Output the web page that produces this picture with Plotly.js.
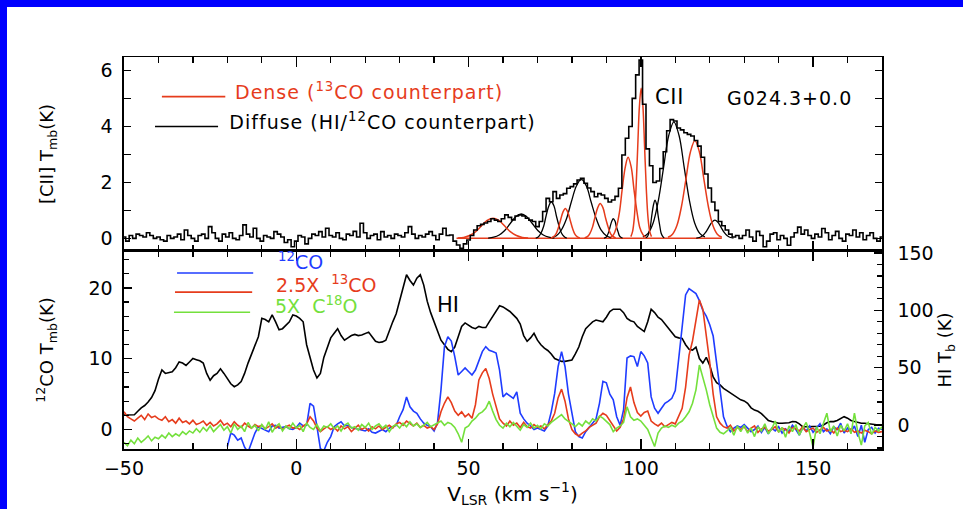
<!DOCTYPE html>
<html>
<head>
<meta charset="utf-8">
<script src="https://cdn.plot.ly/plotly-3.0.1.min.js"></script>
<style>
  html, body { margin: 0; padding: 0; background: #fff; }
  #wrap { position: relative; width: 963px; height: 509px; overflow: hidden; }
  #chart { position: absolute; left: 0; top: 0; width: 963px; height: 509px; }
  .bar-top { position: absolute; left: 0; top: 0; width: 963px; height: 7px; background: #0000ff; z-index: 5; }
  .bar-left { position: absolute; left: 0; top: 0; width: 7px; height: 509px; background: #0000ff; z-index: 5; }
  g.annotation[data-index="0"] text, g.annotation[data-index="1"] text,
  g.annotation[data-index="3"] text { letter-spacing: 1px; }
  g.annotation[data-index="2"] text { letter-spacing: 0.6px; }
</style>
</head>
<body>
<div id="wrap">
  <div id="chart"></div>
  <div class="bar-top"></div>
  <div class="bar-left"></div>
</div>
<script>
// ---------------- DATA ----------------
// Velocity channels (km/s)
const velocity = [-50,-49,-48,-47,-46,-45,-44,-43,-42,-41,-40,-39,-38,-37,-36,-35,-34,-33,-32,-31,
-30,-29,-28,-27,-26,-25,-24,-23,-22,-21,-20,-19,-18,-17,-16,-15,-14,-13,-12,-11,
-10,-9,-8,-7,-6,-5,-4,-3,-2,-1,0,1,2,3,4,5,6,7,8,9,
10,11,12,13,14,15,16,17,18,19,20,21,22,23,24,25,26,27,28,29,
30,31,32,33,34,35,36,37,38,39,40,41,42,43,44,45,46,47,48,49,
50,51,52,53,54,55,56,57,58,59,60,61,62,63,64,65,66,67,68,69,
70,71,72,73,74,75,76,77,78,79,80,81,82,83,84,85,86,87,88,89,
90,91,92,93,94,95,96,97,98,99,100,101,102,103,104,105,106,107,108,109,
110,111,112,113,114,115,116,117,118,119,120,121,122,123,124,125,126,127,128,129,
130,131,132,133,134,135,136,137,138,139,140,141,142,143,144,145,146,147,148,149,
150,151,152,153,154,155,156,157,158,159,160,161,162,163,164,165,166,167,168,169,170];

// [CII] spectrum, Tmb (K)
const ciiTmb = [0.05,-0.1,0.1,0.0,0.15,0.1,0.05,0.2,0.1,0.0,
0.05,-0.05,-0.1,0.1,0.0,0.05,0.15,-0.05,0.3,0.1,
0.0,-0.1,0.1,0.15,0.0,0.42,0.2,0.0,-0.1,0.15,
0.05,0.2,0.0,-0.05,0.1,0.48,0.15,0.05,0.36,0.0,
-0.1,0.1,0.05,0.0,0.24,0.15,0.05,-0.15,-0.05,-0.3,
-0.1,0.1,0.05,-0.2,0.0,0.15,0.1,0.24,0.05,0.36,
0.1,0.05,0.2,0.0,-0.05,0.15,0.1,0.25,0.05,0.54,
0.2,0.0,0.1,0.15,-0.05,0.24,0.05,0.1,0.0,0.15,
0.1,0.05,0.2,0.42,0.15,0.0,0.1,0.05,0.15,0.24,
0.1,-0.05,0.15,0.36,0.1,0.12,-0.1,-0.24,-0.36,-0.2,
-0.06,0.1,0.3,0.45,0.5,0.55,0.6,0.7,0.65,0.6,
0.7,0.84,0.75,0.66,0.8,0.84,0.8,0.72,0.65,0.6,
0.42,0.6,0.96,1.43,1.31,1.67,1.43,1.55,1.6,1.79,
1.85,1.95,2.09,2.15,1.97,1.8,1.67,1.49,1.6,1.55,
1.43,1.3,1.37,1.5,1.79,2.98,3.58,4.0,5.01,5.85,
6.38,4.8,3.2,2.6,2.0,2.05,2.5,3.1,3.85,4.25,
4.2,3.95,3.88,3.78,3.72,3.66,3.5,3.3,2.9,2.3,
1.8,1.3,1.0,0.6,0.45,0.3,0.15,0.05,0.1,0.0,
0.1,0.3,0.05,-0.1,0.25,0.1,-0.3,-0.1,0.15,0.2,
-0.05,0.1,0.0,-0.25,0.05,0.2,0.4,0.15,0.3,0.1,
0.0,0.15,0.05,0.35,0.2,-0.05,0.1,0.25,0.0,-0.1,
0.15,0.1,0.3,0.05,0.2,-0.05,0.1,0.2,0.0,-0.1,
0.05];

// Dense ([CII] with 13CO counterpart) fitted components: velocities and Tmb
const denseVel = [
 [46.9,48.6,50.3,52.0,53.7,55.4,57.1,58.8,60.5,62.2,63.9,65.6,67.3],
 [73.9,74.6,75.3,76.0,76.7,77.4,78.1,78.8,79.5,80.2,80.9,81.6,82.3],
 [83.7,84.5,85.2,86.0,86.7,87.5,88.2,89.0,89.7,90.5,91.2,92.0,92.7],
 [91.2,92.1,92.9,93.8,94.6,95.5,96.3,97.2,98.0,98.9,99.7,100.6,101.4],
 [97.1,97.6,98.1,98.6,99.1,99.6,100.1,100.6,101.1,101.6,102.1,102.6,103.1],
 [107.9,109.2,110.5,111.8,113.1,114.4,115.7,117.0,118.3,119.6,120.9,122.2,123.5]
];
const denseTmb = [
 [0.01,0.03,0.10,0.23,0.44,0.64,0.72,0.64,0.44,0.23,0.10,0.03,0.01],
 [0.01,0.05,0.14,0.35,0.65,0.94,1.07,0.94,0.65,0.35,0.14,0.05,0.01],
 [0.01,0.06,0.17,0.41,0.76,1.10,1.25,1.10,0.76,0.41,0.17,0.06,0.01],
 [0.03,0.13,0.39,0.94,1.76,2.56,2.90,2.56,1.76,0.94,0.39,0.13,0.03],
 [0.06,0.24,0.72,1.75,3.26,4.74,5.37,4.74,3.26,1.75,0.72,0.24,0.06],
 [0.04,0.15,0.47,1.14,2.12,3.09,3.50,3.09,2.12,1.14,0.47,0.15,0.04]
];
const denseBaseVel = [46.5, 123.5];
const denseBaseTmb = [0, 0];

// Diffuse ([CII] with HI/12CO counterpart) fitted components
const diffuseVel = [
 [55.7,57.3,58.9,60.5,62.1,63.7,65.3,66.9,68.5,70.1,71.7,73.3,74.9],
 [69.5,70.3,71.0,71.8,72.5,73.3,74.0,74.8,75.5,76.3,77.0,77.8,78.5],
 [74.0,75.5,76.9,78.4,79.8,81.3,82.7,84.2,85.6,87.1,88.5,90.0,91.4],
 [89.3,89.8,90.2,90.7,91.1,91.6,92.0,92.5,92.9,93.4,93.8,94.3,94.7],
 [101.4,101.9,102.3,102.8,103.2,103.7,104.1,104.6,105.0,105.5,105.9,106.4,106.8],
 [100.6,102.1,103.6,105.1,106.6,108.1,109.6,111.1,112.6,114.1,115.6,117.1,118.6],
 [116.1,117.0,117.9,118.8,119.7,120.6,121.5,122.4,123.3,124.2,125.1,126.0,126.9]
];
const diffuseTmb = [
 [0.01,0.04,0.12,0.28,0.53,0.77,0.87,0.77,0.53,0.28,0.12,0.04,0.01],
 [0.01,0.06,0.18,0.43,0.80,1.16,1.31,1.16,0.80,0.43,0.18,0.06,0.01],
 [0.02,0.09,0.29,0.69,1.29,1.87,2.12,1.87,1.29,0.69,0.29,0.09,0.02],
 [0.01,0.03,0.09,0.23,0.42,0.62,0.70,0.62,0.42,0.23,0.09,0.03,0.01],
 [0.02,0.06,0.18,0.45,0.83,1.21,1.37,1.21,0.83,0.45,0.18,0.06,0.02],
 [0.05,0.18,0.56,1.36,2.53,3.68,4.17,3.68,2.53,1.36,0.56,0.18,0.05],
 [0.01,0.03,0.09,0.21,0.39,0.57,0.65,0.57,0.39,0.21,0.09,0.03,0.01]
];

// HI brightness temperature (K)
const hiTb = [8.7,8.7,8.7,9,12,15,17,20,24,30,
40,48,45,46,46.5,50,55,54,52,55,
58,57,56,54,45,39,43,45,49,45,
40,36,33.4,35,38,45,54,62,70,77,
93,92,90,96,90,83,84,87,90,96,
95,93,90,70,58,48,41,45,59,68,
76,80,84,78,74,76,78,79,78,78.5,
80,81,77,73,72,72.5,74,83,90,97,
108,120,131,126,122,128,131,122,108,98,
90,83,74,70,66,64,68,77,86,89,
87,85,84,86,85,85,90,95,100,104,
103,101,99,96,93,88,78,73,76,80,
74,70,67,65,62,58,57,55.5,55.5,56,
56.7,62,68,77,84,87,90,91.5,91,90,
94,99,101,101,101,98,93,91,90,86,
84,81.5,90,101,98,94,92,88,85,80,
77,76,75.5,70,66,65.4,68,58,54,59,
52,42,37,35,32,30,28,26,24,22,
21,19,15,13,12,10,7,4,3,2,
1.5,1.5,1.5,2,3,2.9,1,-1.5,-1.5,-1.5,
-1.5,-1.5,-1,0,2,3,3,4,6,7.3,
6,4,3,2,1.5,1.5,1,0.5,0,0,
0];

// 12CO Tmb (K), no data below -20 km/s
const co12 = [null,null,null,null,null,null,null,null,null,null,
null,null,null,null,null,null,null,null,null,null,
null,null,null,null,null,null,null,null,null,null,
-2.4,-0.5,-0.8,-1.5,-1.2,-2.5,-3.2,-1.8,-0.5,0.4,
0.2,0.0,-0.3,0.5,0.6,0.2,0.3,0.4,0.1,0.0,
0.3,0.9,0.5,0.6,3.7,3.3,0.4,-2.7,-3.0,-1.8,
-1.0,0.4,0.8,1.1,0.5,0.6,0.3,0.2,0.0,-0.1,
-0.2,0.1,-0.4,-0.5,-0.2,0.0,-0.3,0.2,0.4,0.6,
1.8,2.8,4.6,3.2,2.6,2.3,1.5,0.9,0.6,0.4,
-0.2,1.0,5.6,11.7,13.1,12.5,10.3,7.7,8.2,8.7,
8.2,7.7,8.4,9.8,11.0,11.7,11.2,11.0,10.8,8.4,
4.6,5.1,4.8,4.4,5.3,2.3,1.5,0.9,0.5,0.0,
0.2,0.0,-0.2,0.5,2.5,5.1,8.9,11.0,8.9,5.0,
2.3,-0.3,-1.0,-1.2,-0.3,0.3,0.9,1.5,3.7,6.8,
6.6,5.0,4.2,1.8,0.6,2.8,10.1,10.4,10.3,8.9,
11.0,10.4,9.4,4.6,3.0,2.3,3.0,3.7,4.0,4.4,
5.5,10.0,14.5,19.0,19.9,19.5,19.2,18.2,16.8,16.0,
14.8,13.2,9.5,5.0,1.8,0.5,-0.3,0.2,0.5,0.3,
0.7,0.2,-0.3,0.0,0.5,-0.4,0.3,-0.6,0.2,-0.2,
0.4,-0.5,0.1,-0.3,0.6,0.0,-0.8,0.3,-0.2,0.5,
-0.4,0.2,0.8,-0.3,0.1,-0.6,0.4,0.0,0.9,-0.5,
0.2,-0.3,0.5,-1.0,0.6,-1.8,0.0,0.3,-0.5,0.2,
0.0];

// 2.5 x 13CO Tmb (K)
const co13x25 = [2.5,1.8,1.5,1.2,1.6,2.0,1.4,2.2,1.7,1.9,
1.5,1.3,1.8,1.1,1.4,0.9,1.6,1.0,1.2,0.8,
1.3,0.7,0.9,1.2,0.6,1.0,0.5,0.8,1.3,0.6,
0.9,0.4,1.1,0.6,0.3,0.9,0.5,0.2,0.7,0.4,
0.6,0.1,0.4,0.8,0.2,0.5,0.0,0.4,0.6,0.2,
0.3,0.0,0.5,0.8,1.8,1.2,0.2,-0.3,0.1,0.4,
0.0,0.3,-0.2,0.5,0.1,0.4,-0.3,0.2,0.6,0.0,
0.3,-0.2,0.4,0.1,0.5,0.0,0.3,0.6,0.2,0.8,
1.0,0.6,1.2,0.8,0.5,0.9,0.3,0.6,0.2,0.4,
0.0,0.8,2.5,3.7,4.6,3.8,2.6,2.0,2.5,1.8,
2.2,1.6,3.5,7.0,8.0,8.6,7.2,5.0,3.2,1.5,
0.9,0.5,1.2,0.6,0.9,0.3,1.0,0.4,0.2,0.7,
0.3,0.5,0.1,0.6,1.2,2.3,4.5,5.7,4.0,1.5,
0.0,-0.6,-0.9,-0.5,-0.2,0.3,0.6,0.9,1.8,2.3,
2.0,1.3,0.5,-0.2,0.3,1.5,4.5,6.0,3.8,2.4,
1.9,2.4,2.6,1.2,0.8,0.5,0.9,0.4,0.7,1.0,
0.8,1.8,3.0,6.0,10.5,12.5,15.5,18.3,17.0,13.6,
9.5,5.0,1.8,0.9,0.4,0.2,0.6,-0.2,0.3,0.0,
0.4,-0.3,0.2,0.5,-0.4,0.1,0.3,-0.2,0.0,0.4,
-0.3,0.2,0.0,-0.5,0.3,0.1,-0.2,0.4,-0.3,0.0,
0.2,-0.4,-0.1,0.3,-0.2,0.0,-0.5,0.2,-0.3,-0.1,
-0.3,0.1,-0.4,-0.2,-0.5,-0.1,-0.3,-0.6,-0.2,-0.4,
-0.3];

// 5 x C18O Tmb (K)
const c18ox5 = [-1.8,-2.3,-1.5,-2.0,-1.2,-1.8,-1.4,-0.9,-1.6,-1.1,
-1.3,-0.8,-1.2,-0.5,-1.0,-0.6,-0.9,-0.3,-0.7,-0.2,
-0.5,0.1,-0.4,0.3,-0.2,0.5,-0.3,0.2,0.7,-0.1,
0.4,-0.5,0.8,0.0,0.5,-0.3,1.0,0.2,0.6,-0.2,
0.7,0.0,1.1,-0.4,0.4,0.8,-0.2,0.5,0.1,0.9,
0.2,0.6,-0.3,0.9,0.3,0.0,0.7,-0.2,0.5,0.3,
0.8,0.1,0.5,-0.2,0.6,0.9,0.2,0.4,-0.1,0.7,
0.3,0.9,0.0,0.5,0.8,0.2,0.6,-0.3,0.4,0.7,
0.2,0.9,0.4,1.1,0.5,0.8,0.3,0.6,1.0,0.4,
0.7,0.9,1.2,0.6,1.0,0.8,0.3,-0.6,-1.8,0.2,
0.5,1.2,1.6,2.2,2.5,3.0,4.0,2.6,1.4,0.6,
0.2,0.9,0.4,1.0,0.5,-0.1,0.7,0.3,0.9,0.2,
0.6,0.1,0.8,0.5,1.0,1.4,1.8,2.1,1.5,1.2,
0.8,0.4,0.9,0.5,1.2,0.8,1.5,1.2,1.9,1.6,
1.2,0.7,-0.3,0.2,0.5,1.0,3.2,1.8,1.3,1.5,
1.2,0.6,0.0,-1.2,-2.4,-0.5,0.2,0.5,0.3,0.6,
0.4,0.9,1.2,1.8,2.5,3.7,5.6,9.1,7.5,5.6,
3.5,1.8,0.2,-0.4,-0.6,-0.2,0.3,-0.8,0.5,-0.3,
0.6,-0.5,0.2,-1.0,0.4,-0.2,0.8,-0.6,0.1,1.2,
-0.4,0.3,-1.1,0.5,-0.3,0.7,-0.8,0.2,1.0,-0.5,
-2.5,0.4,-0.6,0.9,2.3,-0.3,0.5,-0.9,0.6,-0.2,
0.8,-0.6,2.3,-0.4,-2.2,0.5,1.0,-0.7,0.3,-0.2,
0.4];

// Axis tick values / labels
const xTickVals = [-50, 0, 50, 100, 150];
const ciiTickVals = [0, 2, 4, 6];
const coTickVals = [0, 10, 20];
const hiTickVals = [0, 50, 100, 150];

// ---------------- STYLE ----------------
const FONT = 'DejaVu Sans, Verdana, sans-serif';
const RED = '#e63c1c';
const BLUE = '#1f3cff';
const GREEN = '#74e03c';
const BLACK = '#000000';

const traces = [];

// Top panel: fitted components (drawn first, then spectrum on top)
traces.push({x: denseBaseVel, y: denseBaseTmb, xaxis: 'x2', yaxis: 'y', mode: 'lines',
  line: {color: RED, width: 1.5}, hoverinfo: 'skip'});
for (let i = 0; i < diffuseVel.length; i++) {
  traces.push({x: diffuseVel[i], y: diffuseTmb[i], xaxis: 'x2', yaxis: 'y', mode: 'lines',
    line: {color: BLACK, width: 1.3, shape: 'spline', smoothing: 1}, hoverinfo: 'skip'});
}
for (let i = 0; i < denseVel.length; i++) {
  traces.push({x: denseVel[i], y: denseTmb[i], xaxis: 'x2', yaxis: 'y', mode: 'lines',
    line: {color: RED, width: 1.5, shape: 'spline', smoothing: 1}, hoverinfo: 'skip'});
}
traces.push({x: velocity, y: ciiTmb, xaxis: 'x2', yaxis: 'y', mode: 'lines',
  line: {color: BLACK, width: 1.6, shape: 'hvh'}, name: '[CII]'});

// Bottom panel: HI (right axis, base), CO lines (left axis, overlaying)
traces.push({x: velocity, y: hiTb, xaxis: 'x', yaxis: 'y2', mode: 'lines',
  line: {color: BLACK, width: 1.6}, name: 'HI'});
traces.push({x: velocity, y: co12, xaxis: 'x', yaxis: 'y3', mode: 'lines',
  line: {color: BLUE, width: 1.6}, name: '12CO', connectgaps: false});
traces.push({x: velocity, y: co13x25, xaxis: 'x', yaxis: 'y3', mode: 'lines',
  line: {color: RED, width: 1.6}, name: '2.5X 13CO'});
traces.push({x: velocity, y: c18ox5, xaxis: 'x', yaxis: 'y3', mode: 'lines',
  line: {color: GREEN, width: 1.6}, name: '5X C18O'});

const tickFont = {family: FONT, size: 19, color: BLACK};
const titleFont = {family: FONT, size: 18, color: BLACK};

const layout = {
  width: 963, height: 509,
  margin: {l: 124, r: 81, t: 57, b: 60},
  paper_bgcolor: '#ffffff', plot_bgcolor: '#ffffff',
  showlegend: false,
  font: {family: FONT, color: BLACK},
  xaxis: {
    anchor: 'y2', domain: [0, 1], range: [-50, 170],
    tickvals: xTickVals, ticks: 'inside', ticklen: 10, tickwidth: 1.5, tickcolor: BLACK,
    minor: {dtick: 10, tick0: 0, ticks: 'inside', ticklen: 6, tickwidth: 1.2, tickcolor: BLACK},
    showline: true, linewidth: 1.6, linecolor: BLACK, mirror: 'ticks',
    showgrid: false, zeroline: false, tickfont: tickFont, ticklabelstandoff: 2,
    title: {text: '&nbsp;&nbsp;&nbsp;V<sub>LSR</sub> (km s<sup>−1</sup>)', font: {family: FONT, size: 20, color: BLACK}, standoff: 2}
  },
  xaxis2: {
    anchor: 'y', matches: 'x', range: [-50, 170], showticklabels: false,
    tickvals: xTickVals, ticks: 'inside', ticklen: 10, tickwidth: 1.5, tickcolor: BLACK,
    minor: {dtick: 10, tick0: 0, ticks: 'inside', ticklen: 6, tickwidth: 1.2, tickcolor: BLACK},
    showline: true, linewidth: 1.4, linecolor: BLACK, mirror: 'ticks',
    showgrid: false, zeroline: false
  },
  yaxis: {
    anchor: 'x2', domain: [0.505, 1], range: [-0.455, 6.49],
    tickvals: ciiTickVals, ticks: 'inside', ticklen: 7, tickwidth: 1.3, tickcolor: BLACK,
    minor: {dtick: 1, tick0: 0, ticks: 'inside', ticklen: 7, tickwidth: 1.2, tickcolor: BLACK},
    showline: true, linewidth: 1.6, linecolor: BLACK, mirror: 'ticks',
    showgrid: false, zeroline: false, tickfont: tickFont, ticklabelstandoff: 6,
    title: {text: '[CII] T<sub>mb</sub>(K)', font: titleFont, standoff: 42}
  },
  yaxis2: {
    anchor: 'x', domain: [0, 0.505], range: [-20.9, 151.7], side: 'right',
    tickvals: hiTickVals, ticks: 'inside', ticklen: 8, tickwidth: 1.3, tickcolor: BLACK,
    minor: {dtick: 10, tick0: 0, ticks: 'inside', ticklen: 5, tickwidth: 1.2, tickcolor: BLACK},
    showline: true, linewidth: 1.6, linecolor: BLACK,
    showgrid: false, zeroline: false, tickfont: tickFont, ticklabelstandoff: 10,
    title: {text: 'HI T<sub>b</sub> (K)', font: titleFont, standoff: 6}
  },
  yaxis3: {
    anchor: 'x', overlaying: 'y2', side: 'left', range: [-2.75, 25.2],
    tickvals: coTickVals, ticks: 'inside', ticklen: 8, tickwidth: 1.3, tickcolor: BLACK,
    minor: {dtick: 2, tick0: 0, ticks: 'inside', ticklen: 5, tickwidth: 1.2, tickcolor: BLACK},
    showline: true, linewidth: 1.6, linecolor: BLACK,
    showgrid: false, zeroline: false, tickfont: tickFont, ticklabelstandoff: 6,
    title: {text: '<sup>12</sup>CO T<sub>mb</sub>(K)', font: titleFont, standoff: 30}
  },
  shapes: [
    {type: 'line', xref: 'x2', yref: 'y', x0: -39.0, x1: -20.6, y0: 5.07, y1: 5.07, line: {color: RED, width: 1.6}},
    {type: 'line', xref: 'x2', yref: 'y', x0: -41.0, x1: -22.7, y0: 4.0, y1: 4.0, line: {color: BLACK, width: 1.6}},
    {type: 'line', xref: 'x', yref: 'y3', x0: -34.6, x1: -12.5, y0: 22.1, y1: 22.1, line: {color: BLUE, width: 1.6}},
    {type: 'line', xref: 'x', yref: 'y3', x0: -35.2, x1: -12.8, y0: 19.4, y1: 19.4, line: {color: RED, width: 1.6}},
    {type: 'line', xref: 'x', yref: 'y3', x0: -35.5, x1: -13.4, y0: 16.55, y1: 16.55, line: {color: GREEN, width: 1.6}}
  ],
  annotations: [
    {xref: 'x2', yref: 'y', x: -14.8, y: 5.28, xanchor: 'left', yanchor: 'middle', showarrow: false,
     text: 'Dense (<sup>13</sup>CO counterpart)', font: {family: FONT, size: 19, color: RED}},
    {xref: 'x2', yref: 'y', x: -15.7, y: 4.21, xanchor: 'left', yanchor: 'middle', showarrow: false,
     text: 'Diffuse (HI/<sup>12</sup>CO counterpart)', font: {family: FONT, size: 19, color: BLACK}},
    {xref: 'x2', yref: 'y', x: 103.8, y: 5.07, xanchor: 'left', yanchor: 'middle', showarrow: false,
     text: 'CII', font: {family: FONT, size: 21, color: BLACK}},
    {xref: 'x2', yref: 'y', x: 125.8, y: 5.01, xanchor: 'left', yanchor: 'middle', showarrow: false,
     text: 'G024.3+0.0', font: {family: FONT, size: 19, color: BLACK}},
    {xref: 'x', yref: 'y3', x: 40.4, y: 17.6, xanchor: 'left', yanchor: 'middle', showarrow: false,
     text: 'HI', font: {family: FONT, size: 21, color: BLACK}},
    {xref: 'x', yref: 'y3', x: -5.8, y: 23.8, xanchor: 'left', yanchor: 'middle', showarrow: false,
     text: '<sup>12</sup>CO', font: {family: FONT, size: 19, color: BLUE}},
    {xref: 'x', yref: 'y3', x: -6.4, y: 20.5, xanchor: 'left', yanchor: 'middle', showarrow: false,
     text: '2.5X  <sup>13</sup>CO', font: {family: FONT, size: 19, color: RED}},
    {xref: 'x', yref: 'y3', x: -6.8, y: 17.6, xanchor: 'left', yanchor: 'middle', showarrow: false,
     text: '5X  C<sup>18</sup>O', font: {family: FONT, size: 19, color: GREEN}}
  ]
};

Plotly.newPlot('chart', traces, layout, {staticPlot: true, displayModeBar: false});
</script>
</body>
</html>
